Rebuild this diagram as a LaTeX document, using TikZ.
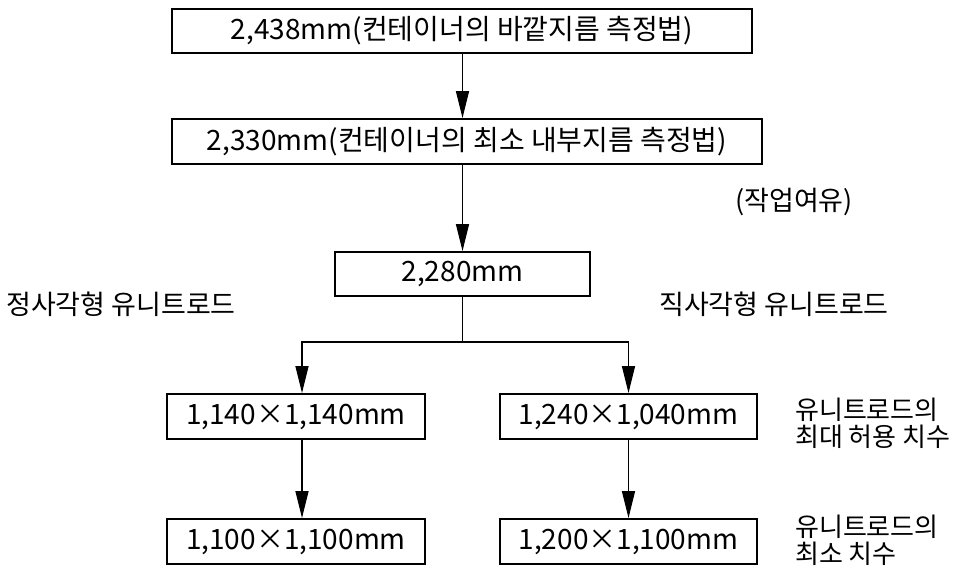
\documentclass[tikz,border=0pt]{standalone}
\usepackage{fontspec}
\newfontfamily\kr{Noto Sans CJK KR}
\usetikzlibrary{arrows.meta}
\begin{document}
\begin{tikzpicture}[x=1pt,y=-1pt,
  box/.style={draw, line width=1.8pt, inner sep=0pt, font=\kr\fontsize{28}{32}\selectfont},
  lbl/.style={inner sep=0pt, font=\kr\fontsize{27}{31}\selectfont},
  two/.style={inner sep=0pt, align=left, font=\kr\fontsize{26}{27}\selectfont},
  conn/.style={line width=1.3pt},
  arr/.style={line width=1.3pt, -{Triangle[length=27pt,width=13pt]}}]
\useasboundingbox (0,0) rectangle (978,569);
\node[box, minimum width=580, minimum height=44] (b1) at (462,31) {2,438mm(컨테이너의 바깥지름 측정법)};
\node[box, minimum width=590, minimum height=45] (b2) at (467,141.5) {2,330mm(컨테이너의 최소 내부지름 측정법)};
\node[box, minimum width=255, minimum height=44] (b3) at (462.5,274) {2,280mm};
\node[box, minimum width=258, minimum height=45] (b4) at (296,416.5) {1,140×1,140mm};
\node[box, minimum width=257, minimum height=45] (b5) at (628.5,416.5) {1,240×1,040mm};
\node[box, minimum width=258, minimum height=45] (b6) at (296,541.5) {1,100×1,100mm};
\node[box, minimum width=257, minimum height=45] (b7) at (628.5,541.5) {1,200×1,100mm};
\node[lbl, anchor=west] (t1) at (735,202) {(작업여유)};
\node[lbl, anchor=west] (t2) at (6,304) {정사각형 유니트로드};
\node[lbl, anchor=west] (t3) at (659,304) {직사각형 유니트로드};
\node[two, anchor=west] (t4) at (795,423.5) {유니트로드의\\최대 허용 치수};
\node[two, anchor=west] (t5) at (795,540.5) {유니트로드의\\최소 치수};
\coordinate (lx) at (302,0);
\coordinate (j) at (462.5,342);
\draw[arr] (b1.south -| b3) -- (b2.north -| b3);
\draw[arr] (b2.south -| b3) -- (b3.north);
\draw[conn] (b3.south) -- (j);
\draw[arr] (j) -| (b4.north -| lx);
\draw[arr] (j) -| (b5.north);
\draw[arr] (b4.south -| lx) -- (b6.north -| lx);
\draw[arr] (b5.south) -- (b7.north);
\end{tikzpicture}
\end{document}
